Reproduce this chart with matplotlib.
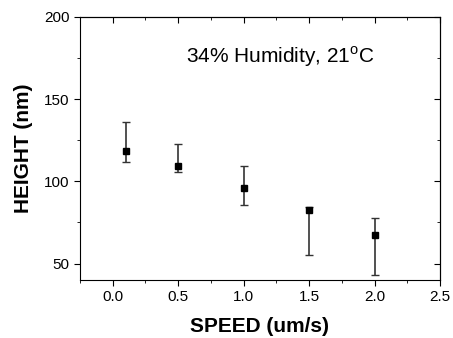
import matplotlib
matplotlib.use("Agg")
import matplotlib.pyplot as plt
from matplotlib.ticker import MultipleLocator

# data
speed = [0.1, 0.5, 1.0, 1.5, 2.0]
height = [118.6, 109.5, 96.0, 82.8, 67.6]
err_top = [136.2, 122.9, 109.5, 84.6, 78.0]
err_bottom = [111.9, 105.8, 85.8, 55.5, 43.3]

plt.rcParams['font.family'] = ['Liberation Sans', 'DejaVu Sans']

fig = plt.figure(figsize=(4.53, 3.38), dpi=100)
ax = fig.add_axes([80 / 453, 1 - 280 / 338, 360 / 453, 263 / 338])

lower = [h - b for h, b in zip(height, err_bottom)]
upper = [t - h for h, t in zip(height, err_top)]
ax.errorbar(speed, height, yerr=[lower, upper], fmt='s', color='black',
            ms=5, ecolor='#333333', elinewidth=1.2, capsize=3, capthick=1)

ax.set_xlim(-0.25, 2.5)
ax.set_ylim(40, 200)
ax.xaxis.set_major_locator(MultipleLocator(0.5))
ax.xaxis.set_minor_locator(MultipleLocator(0.25))
ax.yaxis.set_major_locator(MultipleLocator(50))
ax.yaxis.set_minor_locator(MultipleLocator(25))
ax.xaxis.set_major_formatter(matplotlib.ticker.FormatStrFormatter('%.1f'))

ax.tick_params(which='both', direction='out', labelsize=11)
ax.tick_params(which='major', length=4)
ax.tick_params(which='minor', length=2.5)

# inward ticks on top and right, no labels
sec_x = ax.secondary_xaxis('top')
sec_x.xaxis.set_major_locator(MultipleLocator(0.5))
sec_x.xaxis.set_minor_locator(MultipleLocator(0.25))
sec_x.tick_params(which='both', direction='in', labeltop=False)
sec_x.tick_params(which='major', length=4)
sec_x.tick_params(which='minor', length=2.5)
sec_y = ax.secondary_yaxis('right')
sec_y.yaxis.set_major_locator(MultipleLocator(50))
sec_y.yaxis.set_minor_locator(MultipleLocator(25))
sec_y.tick_params(which='both', direction='in', labelright=False)
sec_y.tick_params(which='major', length=4)
sec_y.tick_params(which='minor', length=2.5)

ax.set_xlabel('SPEED (um/s)', fontsize=15, fontweight='bold', labelpad=9)
ax.set_ylabel('HEIGHT (nm)', fontsize=15, fontweight='bold', labelpad=8)
ax.text(1.28, 176, '34% Humidity, 21$^{\\mathregular{o}}$C', ha='center', va='center', fontsize=15)

fig.savefig('out.png', dpi=100)
